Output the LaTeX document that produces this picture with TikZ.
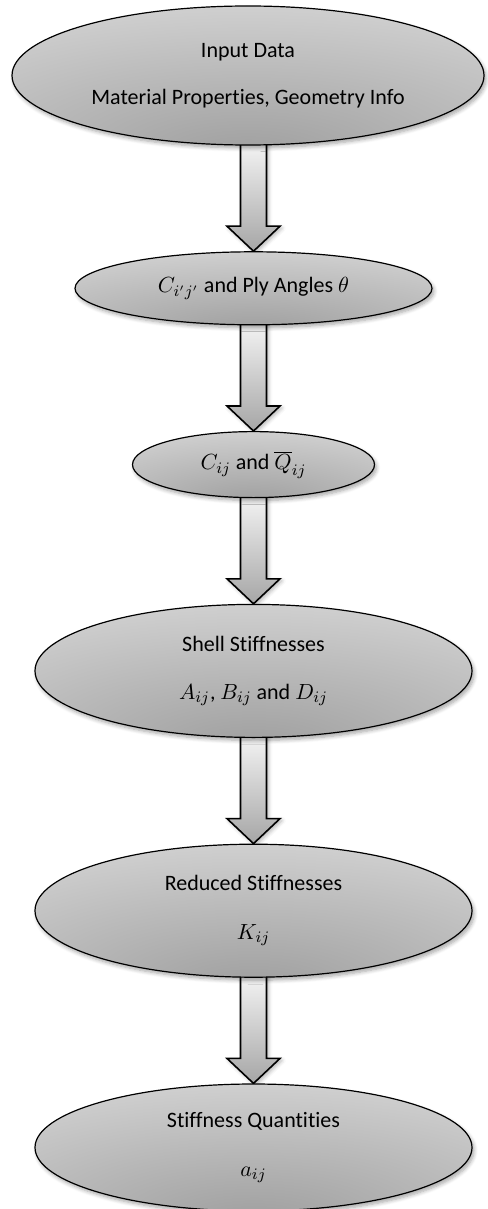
\documentclass[tikz,border=0pt]{standalone}
\usepackage{fontspec}
\setmainfont{Carlito}[Ligatures=NoCommon]
\usetikzlibrary{shapes.geometric,positioning,calc,backgrounds,shadows.blur}
\pgfdeclareradialshading{stagegrad}{\pgfpoint{0bp}{-30bp}}{%
  color(0bp)=(black!38); color(30bp)=(black!24);
  color(60bp)=(black!10); color(90bp)=(black!7)}
\tikzset{
  stage/.style={ellipse,draw=black,line width=0.6pt,shade,shading=stagegrad,
                align=center,inner sep=0pt,font=\fontsize{11}{13.2}\selectfont,
                blur shadow={shadow xshift=1pt,shadow yshift=-1.5pt,
                             shadow blur steps=6,shadow opacity=35}},
  fatarrow/.style={draw=black,line width=0.8pt,line join=miter,
                   top color=black!4,bottom color=black!35,
                   blur shadow={shadow xshift=1pt,shadow yshift=-1pt,
                                shadow blur steps=4,shadow opacity=30}}
}
\newcommand{\stagearrow}[2]{%
  \path[fatarrow] ($(#2.north |- #1.south)+(-6.5pt,2pt)$)
    -- ($(#2.north)+(-6.5pt,12.5pt)$) -- ($(#2.north)+(-13.25pt,12.5pt)$)
    -- (#2.north)
    -- ($(#2.north)+(13.25pt,12.5pt)$) -- ($(#2.north)+(6.5pt,12.5pt)$)
    -- ($(#2.north |- #1.south)+(6.5pt,2pt)$) -- cycle;}

\begin{document}
\begin{tikzpicture}[node distance=52.8pt]
  \useasboundingbox (0,0) rectangle (243.5pt,-604.5pt);

  \node[stage,minimum width=236pt,minimum height=69.5pt] (input) at (124pt,-37.75pt)
    {Input Data\\[10.5pt] Material Properties, Geometry Info};
  \node[stage,minimum width=178.5pt,minimum height=36.5pt,below=of input,xshift=2.75pt] (ply)
    {\raisebox{-4.5pt}{$C_{i'j'}$ and Ply Angles $\theta$}};
  \node[stage,minimum width=121pt,minimum height=33pt,below=of ply] (lamina)
    {$C_{ij}$ and $\overline{Q}_{ij}$};
  \node[stage,minimum width=218.5pt,minimum height=66.5pt,below=of lamina] (shell)
    {Shell Stiffnesses\\[11pt] $A_{ij}$, $B_{ij}$ and $D_{ij}$};
  \node[stage,minimum width=218.5pt,minimum height=66.5pt,below=of shell] (reduced)
    {Reduced Stiffnesses\\[11pt] $K_{ij}$};
  \node[stage,minimum width=218.5pt,minimum height=63.5pt,below=of reduced] (quant)
    {Stiffness Quantities\\[11pt] $a_{ij}$};

  \begin{scope}[on background layer]
    \stagearrow{input}{ply}
    \stagearrow{ply}{lamina}
    \stagearrow{lamina}{shell}
    \stagearrow{shell}{reduced}
    \stagearrow{reduced}{quant}
  \end{scope}
\end{tikzpicture}
\end{document}
